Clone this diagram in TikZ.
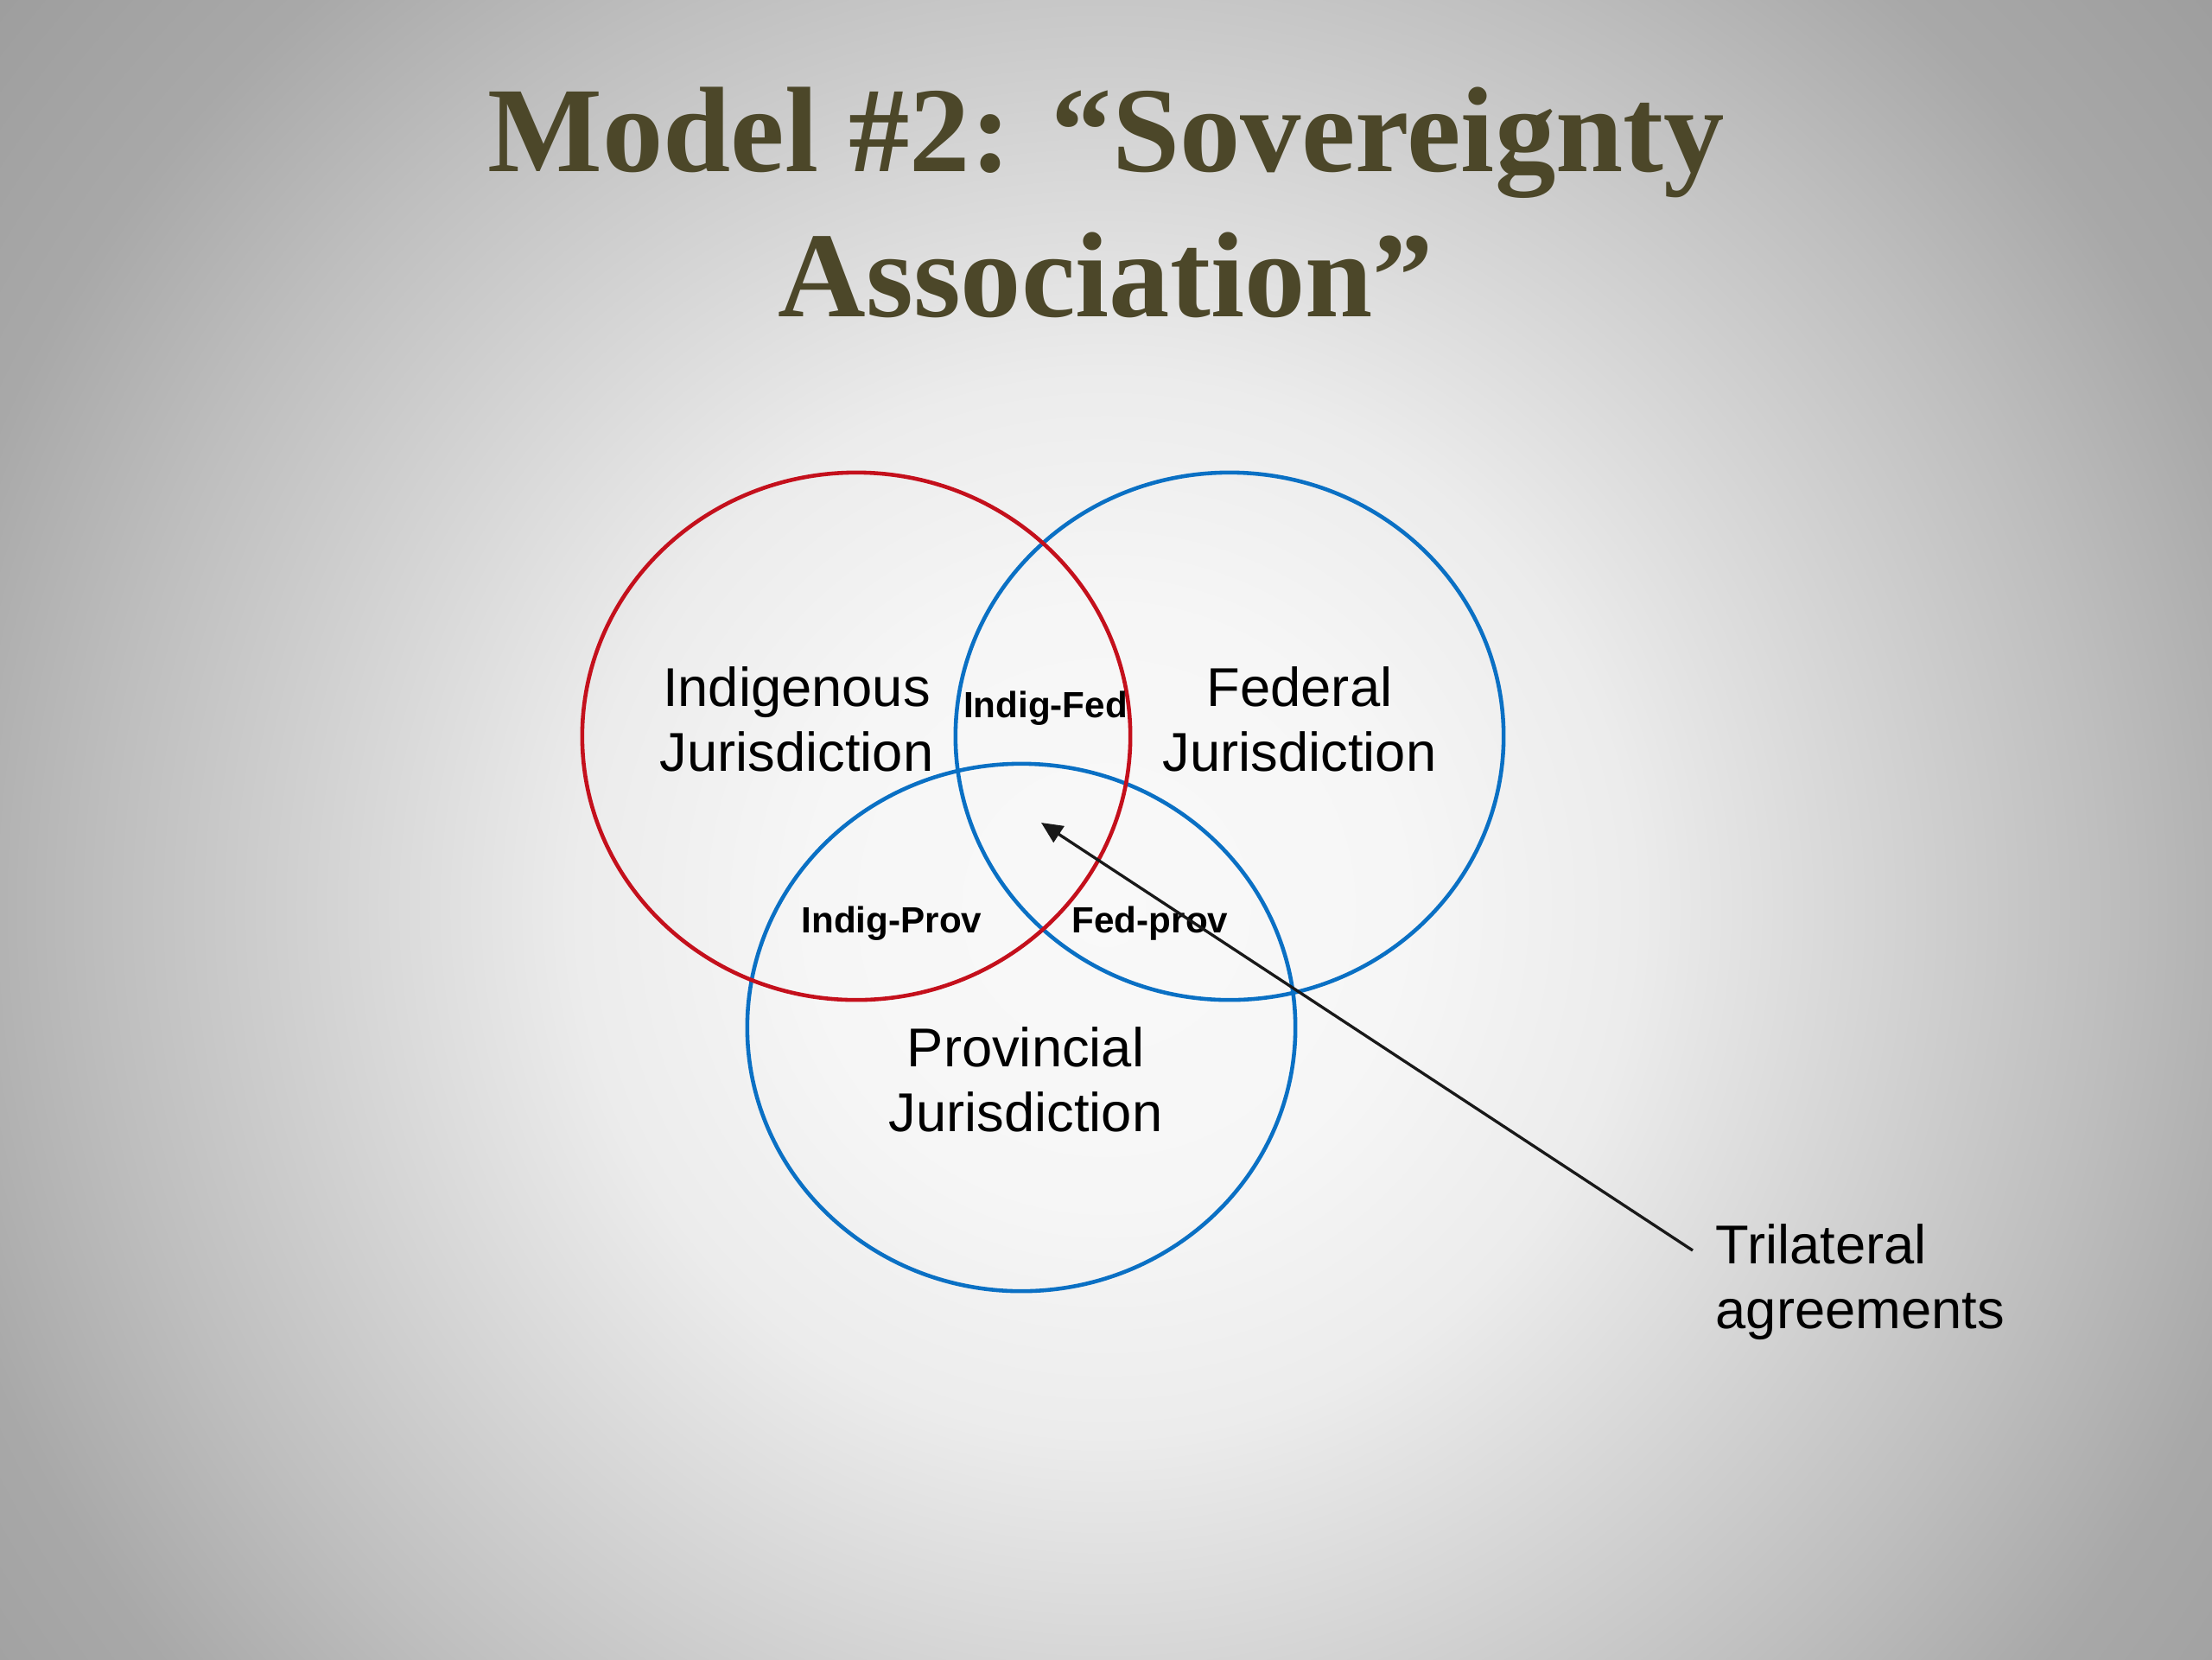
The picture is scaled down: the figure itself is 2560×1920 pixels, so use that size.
\documentclass[tikz,border=0pt]{standalone}
\usepackage{fontspec}
\setmainfont{Liberation Sans}
\newfontfamily\titlefont{Liberation Serif}
\usetikzlibrary{arrows.meta,positioning,shapes.geometric}
\definecolor{indigred}{HTML}{C4101C}
\definecolor{crownblue}{HTML}{0A70C4}
\definecolor{titleolive}{HTML}{4C4729}
\definecolor{bgA}{gray}{0.976}
\definecolor{bgB}{gray}{0.965}
\definecolor{bgC}{gray}{0.925}
\definecolor{bgD}{gray}{0.745}
\definecolor{bgE}{gray}{0.66}
\definecolor{bgF}{gray}{0.612}
\pgfdeclareradialshading{slideglow}{\pgfpoint{0bp}{0bp}}{color(0bp)=(bgA); color(5bp)=(bgB); color(9bp)=(bgC); color(17bp)=(bgD); color(20.5bp)=(bgE); color(25bp)=(bgF); color(50bp)=(bgF)}

\begin{document}
\begin{tikzpicture}[
  x=0.01cm, y=-0.01cm,
  realm/.style={ellipse, draw, line width=1.3pt, minimum width=6.34cm, minimum height=6.1cm, inner sep=0pt},
  jurisdiction/.style={align=center, inner sep=0pt, font=\fontsize{18}{21.4}\selectfont},
  overlap/.style={inner sep=0pt, font=\fontsize{12}{14}\selectfont\bfseries},
  pointer/.style={-{Triangle[length=7pt,width=6.3pt]}, line width=0.95pt, draw=black!90}
]
  % background
  \useasboundingbox (0,0) rectangle (2560,1920);
  \begin{scope}
    \clip (0,0) rectangle (2560,1920);
    \shade[shading=slideglow] (1280,1050) circle (17cm);
  \end{scope}

  % title
  \node[anchor=north, align=center, inner sep=0pt, text=titleolive,
        font=\titlefont\bfseries\fontsize{40}{47.8}\selectfont] (title) at (1280,100)
        {Model \#2: “Sovereignty\\Association”};

  % the three jurisdictions
  \node[realm, draw=crownblue] (fed) at (1423,852) {};
  \node[realm, draw=crownblue] (prov) at (1182,1189) {};
  \node[realm, draw=indigred] (indig) at (991,852) {};

  \node[jurisdiction] (indiglbl) at (922,832) {Indigenous\\Jurisdiction};
  \node[jurisdiction] (fedlbl) at (1504,832) {Federal\\Jurisdiction};
  \node[jurisdiction] (provlbl) at (1187,1249) {Provincial\\Jurisdiction};

  \node[overlap] (indigfed) at (1210,820) {Indig-Fed};
  \node[overlap] (indigprov) at (1032,1069) {Indig-Prov};
  \node[overlap] (fedprov) at (1331,1069) {Fed-prov};

  % trilateral pointer
  \coordinate (core) at (1205,952);
  \node[jurisdiction, align=left, anchor=north west] (tri) at (1985,1416) {Trilateral\\agreements};
  \draw[pointer] ([xshift=-2.6mm, yshift=-3.1mm]tri.north west) -- (core);
\end{tikzpicture}
\end{document}
